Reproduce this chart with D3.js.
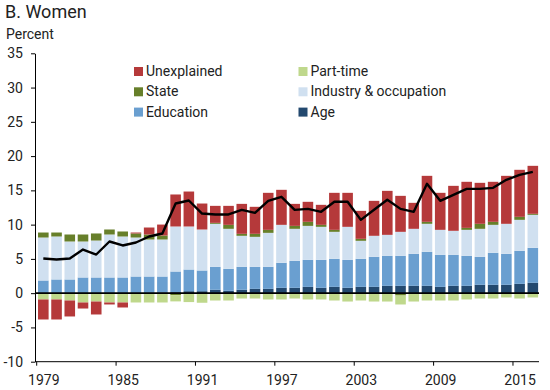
<!DOCTYPE html>
<html><head><meta charset="utf-8">
<script src="https://cdn.jsdelivr.net/npm/d3@7"></script>
<style>body{margin:0;background:#fff}svg{display:block;font-family:Roboto,"Liberation Sans",Arial,sans-serif}</style>
</head><body><svg id="chart" width="550" height="390"></svg>
<script>
const years = d3.range(1979, 2017);
const xTickYears = [1979, 1985, 1991, 1997, 2003, 2009, 2015];
const yTicks = [-10, -5, 0, 5, 10, 15, 20, 25, 30, 35];

const age = [0,0,0,0,0,0,0,0,0,0.1,0.15,0.29,0.29,0.49,0.34,0.49,0.63,0.63,0.78,0.78,0.92,0.78,0.92,0.78,0.92,0.92,1.07,1.07,1.07,1.07,0.92,1.07,1.07,1.22,1.22,1.22,1.36,1.51];
const education = [1.85,2.0,2.0,2.29,2.29,2.29,2.29,2.43,2.43,2.33,3.01,3.16,3.02,3.35,3.21,3.35,3.21,3.21,3.65,3.94,3.94,4.08,4.09,4.08,4.09,4.38,4.38,4.38,4.67,4.96,4.67,4.52,4.38,4.08,4.67,4.52,4.82,5.1];
const industry = [6.27,6.27,5.54,5.25,5.39,6.27,5.98,5.69,5.4,5.4,6.57,6.28,5.98,6.28,5.84,4.53,4.38,4.96,5.54,4.67,4.96,4.82,3.94,4.82,2.63,3.07,3.06,3.5,3.65,4.09,3.65,3.51,3.79,4.09,4.08,4.38,4.52,4.82];
const state = [0.73,0.58,1.02,1.02,1.03,0.73,0.73,0.59,0.73,0.58,-0.3,0,0,0.14,0.58,0.29,0.44,0.44,0,0.43,0.59,0.29,0.29,0,0.29,0,0,-0.34,0,0.29,0,0,0.29,0.73,0.44,0,0.44,0.15];
const partTime = [-0.92,-0.92,-1.07,-1.36,-1.22,-1.36,-1.36,-1.36,-1.36,-1.36,-0.9,-1.3,-1.4,-1.07,-1.07,-0.78,-0.78,-0.92,-0.92,-0.78,-0.92,-0.92,-1.07,-1.22,-1.07,-1.22,-1.22,-1.31,-1.22,-1.07,-1.07,-1.07,-0.92,-0.78,-0.78,-0.63,-0.78,-0.63];
const unexplained = [-2.92,-2.92,-2.33,-0.88,-1.89,-0.29,-0.73,0.14,1.02,1.6,4.67,5.1,3.79,2.48,2.77,4.37,3.94,5.4,5.11,3.21,2.92,2.92,5.4,4.96,4.08,5.1,6.42,5.25,3.79,6.71,5.4,6.56,6.72,5.98,5.84,7.0,6.86,7.0];
const total = [5.06,4.91,5.06,6.37,5.64,7.54,6.96,7.39,8.27,8.7,13.08,13.52,11.62,11.48,11.48,12.16,11.72,13.47,14.06,12.16,12.3,11.87,13.33,13.33,10.7,12.16,13.62,12.3,11.87,15.95,13.47,14.35,15.22,15.22,15.37,16.54,17.27,17.7];

const seriesNames = ["Age", "Education", "Industry & occupation", "State", "Part-time", "Unexplained"];
const seriesValues = [age, education, industry, state, partTime, unexplained];
const colors = {"Age":"#23496f","Education":"#6a9fd0","Industry & occupation":"#d0e0f0","State":"#677f2a","Part-time":"#bfd88c","Unexplained":"#b5393a"};

const rows = years.map((yr, i) => {
  const r = {year: yr};
  seriesNames.forEach((k, j) => r[k] = seriesValues[j][i]);
  return r;
});

const svg = d3.select("#chart");
const step = 13.23;
const x = d3.scaleBand().domain(years).range([36.7, 36.7 + years.length * step]).paddingInner(0.2).paddingOuter(0.1);
const y = d3.scaleLinear().domain([-10, 35]).range([361.7, 53.3]);

const stacked = d3.stack().keys(seriesNames).offset(d3.stackOffsetDiverging)(rows);

svg.append("g").selectAll("g").data(stacked).join("g")
  .attr("fill", d => colors[d.key])
  .selectAll("rect").data(d => d).join("rect")
  .attr("x", d => x(d.data.year))
  .attr("width", x.bandwidth())
  .attr("y", d => Math.min(y(d[0]), y(d[1])))
  .attr("height", d => Math.abs(y(d[0]) - y(d[1])));

// zero line
svg.append("line").attr("x1", 35).attr("x2", 539).attr("y1", y(0)).attr("y2", y(0))
  .attr("stroke", "#000").attr("stroke-width", 1.6);

// total line
svg.append("path").datum(total)
  .attr("fill", "none").attr("stroke", "#000").attr("stroke-width", 2.4)
  .attr("stroke-linejoin", "round")
  .attr("d", d3.line().x((d, i) => x(years[i]) + x.bandwidth() / 2).y(d => y(d)));

// y axis
const yAxis = svg.append("g").attr("transform", "translate(35,0)")
  .call(d3.axisLeft(y).tickValues(yTicks).tickFormat(d => String(d)).tickSize(4).tickSizeOuter(0).tickPadding(8));
yAxis.select(".domain").attr("stroke", "#000");
yAxis.selectAll(".tick line").attr("stroke", "#000");
yAxis.selectAll(".tick text").attr("font-size", 14).attr("fill", "#222").attr("font-family", "Roboto, sans-serif");

// x axis
svg.append("line").attr("x1", 35).attr("x2", 539).attr("y1", y(-10)).attr("y2", y(-10)).attr("stroke", "#000");
const xt = svg.append("g");
xt.selectAll("line").data(xTickYears).join("line")
  .attr("x1", d => x(d) - x.step() * 0.1).attr("x2", d => x(d) - x.step() * 0.1)
  .attr("y1", y(-10)).attr("y2", y(-10) + 4).attr("stroke", "#000");
xt.selectAll("text").data(xTickYears).join("text")
  .attr("x", d => x(d) + x.bandwidth() / 2 + 0.5).attr("y", 385)
  .attr("text-anchor", "middle").attr("font-size", 14).attr("fill", "#222").text(d => d);

// titles
svg.append("text").attr("x", 5).attr("y", 18).attr("font-size", 18).attr("fill", "#222").text("B. Women");
svg.append("text").attr("x", 6).attr("y", 39).attr("font-size", 14).attr("fill", "#222").text("Percent");

// legend
const legendItems = [
  {k: "Unexplained", col: 0, row: 0}, {k: "State", col: 0, row: 1}, {k: "Education", col: 0, row: 2},
  {k: "Part-time", col: 1, row: 0}, {k: "Industry & occupation", col: 1, row: 1}, {k: "Age", col: 1, row: 2}
];
const lg = svg.append("g").selectAll("g").data(legendItems).join("g")
  .attr("transform", d => `translate(${134 + d.col * 164.5},${76 + d.row * 20.3})`);
lg.append("rect").attr("x", 0).attr("y", -9).attr("width", 9).attr("height", 9).attr("fill", d => colors[d.k]);
lg.append("text").attr("x", 12).attr("y", 0).attr("font-size", 14).attr("fill", "#222").text(d => d.k);
</script></body></html>
